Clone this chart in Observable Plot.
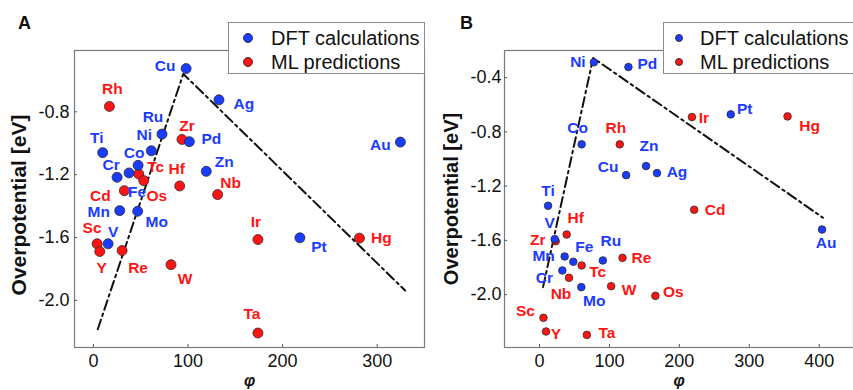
<!DOCTYPE html>
<html>
<head>
<meta charset="utf-8">
<script src="https://cdn.jsdelivr.net/npm/d3@7"></script>
<script src="https://cdn.jsdelivr.net/npm/@observablehq/plot@0.6"></script>
<style>
  html, body { margin: 0; padding: 0; background: #fff; overflow: hidden; }
  #wrap { position: relative; width: 853px; height: 390px; overflow: hidden; }
  .panel { position: absolute; top: 0; }
  .legend { position: absolute; top: 22px; height: 50px; border: 1px solid #8a8a8a; background: #fff;
            font-family: "Liberation Sans", Arial, sans-serif; font-size: 20px; color: #111; }
  .legend .txt { position: absolute; white-space: nowrap; line-height: 20px; }
  .legend .dot { position: absolute; border-radius: 50%; border: 1px solid #333; box-sizing: border-box; }
</style>
</head>
<body>
<div id="wrap"></div>
<script>
// Panel A: overpotential vs. descriptor φ
const dftElementsA = ["Cu", "Ru", "Ni", "Pd", "Ti", "Co", "Cr", "Fe", "Zn", "Ag", "Au", "Pt", "Mn", "Mo", "V"];
const dftPhiA = [98, 72.5, 61.2, 101.4, 9.8, 47.2, 25, 37.7, 119.3, 132.7, 324.5, 218.3, 27.8, 46.8, 15.5];
const dftEtaA = [-0.525, -0.942, -1.048, -0.99, -1.06, -1.141, -1.217, -1.189, -1.179, -0.724, -0.993, -1.602, -1.429, -1.433, -1.64];

const mlElementsA = ["Rh", "Zr", "Tc", "Os", "Hf", "Nb", "Cd", "Sc", "Y", "Re", "W", "Ir", "Ta", "Hg"];
const mlPhiA = [16.9, 93.6, 47.9, 53.2, 91.2, 131.3, 32.7, 3.9, 6.7, 30.3, 82, 173.9, 173.9, 281.2];
const mlEtaA = [-0.766, -0.976, -1.196, -1.238, -1.272, -1.327, -1.302, -1.64, -1.689, -1.683, -1.773, -1.613, -2.208, -1.604];

const volcanoPhiA = [4.6, 95, 329.5];
const volcanoEtaA = [-2.184, -0.559, -1.937];

const xTicksA = [0, 100, 200, 300];
const yTicksA = [-0.8, -1.2, -1.6, -2.0];

// Panel B
const dftElementsB = ["Ni", "Pd", "Co", "Cu", "Zn", "Ag", "Pt", "Au", "Ti", "V", "Mn", "Fe", "Ru", "Cr", "Mo"];
const dftPhiB = [77.8, 127.2, 60.3, 123.9, 152.4, 168, 273.5, 404, 12.3, 21.8, 36, 48.4, 90.6, 32.7, 59.8];
const dftEtaB = [-0.287, -0.322, -0.892, -1.119, -1.052, -1.104, -0.671, -1.52, -1.345, -1.591, -1.719, -1.758, -1.748, -1.822, -1.945];

const mlElementsB = ["Rh", "Ir", "Hg", "Cd", "Os", "Hf", "Zr", "Tc", "Re", "Nb", "W", "Sc", "Y", "Ta"];
const mlPhiB = [114.8, 218, 354.7, 221.2, 165.7, 38.9, 23.2, 60.3, 118.7, 42.2, 102.5, 5.7, 9.4, 67.8];
const mlEtaB = [-0.892, -0.691, -0.686, -1.374, -2.009, -1.557, -1.606, -1.785, -1.729, -1.876, -1.938, -2.171, -2.272, -2.297];

const volcanoPhiB = [5.1, 76.8, 405.4];
const volcanoEtaB = [-1.945, -0.255, -1.433];

const xTicksB = [0, 100, 200, 300, 400];
const yTicksB = [-0.4, -0.8, -1.2, -1.6, -2.0];

const legendLabels = ["DFT calculations", "ML predictions"];

// Label placement (pixel offsets of each element tag from its dot)
const tagOffsetA = {
  Cu: [-21, -3], Ru: [-9, -17], Ni: [-7, -16], Pd: [22, -3], Ti: [-6, -15], Co: [-4, -12], Cr: [-6, -12],
  Fe: [8, 19], Zn: [18, -9], Ag: [25, 4], Au: [-20, 3], Pt: [19, 9], Mn: [-21, 1], Mo: [19, 11], V: [5, -12],
  Rh: [3, -17], Zr: [5, -13], Tc: [17, -7], Os: [13, 15], Hf: [-3, -17], Nb: [13, -12], Cd: [-24, 5],
  Sc: [-5, -16], Y: [2, 17], Re: [16, 17], W: [14, 14], Ir: [-2, -18], Ta: [-6, -19], Hg: [22, 0]
};
const tagOffsetB = {
  Ni: [-16, 0], Pd: [19, -3], Co: [-4, -16], Cu: [-18, -8], Zn: [3, -20], Ag: [20, -1], Pt: [14, -5],
  Au: [4, 14], Ti: [0, -15], V: [-5, -16], Mn: [-21, 0], Fe: [11, -15], Ru: [8, -19], Cr: [-18, 8], Mo: [13, 14],
  Rh: [-4, -16], Ir: [12, 1], Hg: [22, 10], Cd: [21, 0], Os: [18, -4], Hf: [9, -17], Zr: [-18, -1],
  Tc: [16, 7], Re: [19, 0], Nb: [-8, 16], W: [18, 4], Sc: [-18, -7], Y: [10, 3], Ta: [20, -2]
};

const BLUE = "#1a3cff";
const RED = "#ff1414";
const FONT = "'Liberation Sans', Arial, sans-serif";

const rows = (els, phi, eta) => els.map((el, i) => ({el, phi: phi[i], eta: eta[i]}));

function panel(o) {
  const height = 390, marginTop = 50, marginBottom = 43;
  const innerW = o.width - o.marginLeft - o.marginRight;
  const innerH = height - marginTop - marginBottom;
  const dft = rows(o.dftEl, o.dftPhi, o.dftEta);
  const ml = rows(o.mlEl, o.mlPhi, o.mlEta);
  const volcano = o.vPhi.map((p, i) => ({phi: p, eta: o.vEta[i]}));

  const tags = (data, color) => data.map(d => Plot.text([d], {
    x: "phi", y: "eta", text: "el", fill: color, fontWeight: "bold", fontSize: 15.5,
    fontFamily: FONT, dx: o.offsets[d.el][0], dy: o.offsets[d.el][1]
  }));

  return Plot.plot({
    width: o.width, height, marginLeft: o.marginLeft, marginRight: o.marginRight, marginTop, marginBottom,
    x: {domain: o.xDomain, label: null},
    y: {domain: o.yDomain, label: null},
    style: {fontFamily: FONT, fontSize: "18px", color: "#111", background: "transparent", overflow: "visible"},
    marks: [
      Plot.frame({stroke: "#7a7a7a", strokeWidth: 1.2}),
      Plot.tickX(o.xTicks, {x: d => d, insetTop: innerH - 3, stroke: "#555"}),
      Plot.tickY(o.yTicks, {y: d => d, insetRight: innerW - 3, stroke: "#555"}),
      Plot.axisX({ticks: o.xTicks, tickSize: 0, tickPadding: 7, tickFormat: d => String(d), fontSize: 18, fill: "#111"}),
      Plot.axisY({ticks: o.yTicks, tickSize: 0, tickPadding: o.tickPadY, tickFormat: d => d.toFixed(1), fontSize: 18, fill: "#111"}),
      Plot.line(volcano, {x: "phi", y: "eta", stroke: "#111", strokeWidth: 2, strokeDasharray: "10,4,2.5,4"}),
      Plot.dot(ml, {x: "phi", y: "eta", r: o.r, fill: RED, stroke: "#2a2a2a", strokeWidth: 0.8}),
      Plot.dot(dft, {x: "phi", y: "eta", r: o.r, fill: BLUE, stroke: "#2a2a2a", strokeWidth: 0.8}),
      ...tags(ml, RED),
      ...tags(dft, BLUE),
      Plot.text(["φ"], {frameAnchor: "bottom", dy: 33, textAnchor: "middle", lineAnchor: "middle",
        fontStyle: "italic", fontWeight: "bold", fontSize: 16, fontFamily: FONT, fill: "#111"}),
      Plot.text(["Overpotential [eV]"], {frameAnchor: "left", dx: o.titleDx, dy: o.titleDy, rotate: -90,
        textAnchor: "middle", lineAnchor: "middle",
        fontWeight: "bold", fontSize: o.titleSize, fontFamily: FONT, fill: "#111"}),
      Plot.text([o.letter], {frameAnchor: "top-left", dx: o.letterDx, dy: -27, textAnchor: "middle", lineAnchor: "middle",
        fontWeight: "bold", fontSize: 18, fontFamily: FONT, fill: "#111"})
    ]
  });
}

function legend(left, width, dotX, dotD, textX) {
  const box = document.createElement("div");
  box.className = "legend";
  box.style.left = left + "px";
  box.style.width = width + "px";
  [[BLUE, 14.7], [RED, 39]].forEach(([c, cy], i) => {
    const dot = document.createElement("div");
    dot.className = "dot";
    dot.style.background = c;
    dot.style.width = dot.style.height = dotD + "px";
    dot.style.left = (dotX - dotD / 2) + "px";
    dot.style.top = (cy - dotD / 2) + "px";
    box.appendChild(dot);
    const t = document.createElement("div");
    t.className = "txt";
    t.textContent = legendLabels[i];
    t.style.left = textX + "px";
    t.style.top = (cy - 10) + "px";
    box.appendChild(t);
  });
  return box;
}

const wrap = document.getElementById("wrap");

const a = panel({
  width: 427, marginLeft: 74, marginRight: 3,
  xDomain: [-20, 350], yDomain: [-2.30, -0.41],
  xTicks: xTicksA, yTicks: yTicksA, tickPadY: 5, r: 5,
  dftEl: dftElementsA, dftPhi: dftPhiA, dftEta: dftEtaA,
  mlEl: mlElementsA, mlPhi: mlPhiA, mlEta: mlEtaA,
  vPhi: volcanoPhiA, vEta: volcanoEtaA, offsets: tagOffsetA,
  titleDx: -55, titleDy: 6, titleSize: 21, letter: "A", letterDx: -50
});
a.classList.add("panel");
a.style.left = "0px";
wrap.appendChild(a);

const b = panel({
  width: 430, marginLeft: 77, marginRight: 4,
  xDomain: [-50, 449], yDomain: [-2.39, -0.2],
  xTicks: xTicksB, yTicks: yTicksB, tickPadY: 3, r: 3.8,
  dftEl: dftElementsB, dftPhi: dftPhiB, dftEta: dftEtaB,
  mlEl: mlElementsB, mlPhi: mlPhiB, mlEta: mlEtaB,
  vPhi: volcanoPhiB, vEta: volcanoEtaB, offsets: tagOffsetB,
  titleDx: -53, titleDy: 0, titleSize: 20, letter: "B", letterDx: -38
});
b.classList.add("panel");
b.style.left = "427px";
wrap.appendChild(b);

wrap.appendChild(legend(228, 195, 18.7, 10, 42));
wrap.appendChild(legend(663, 200, 15, 8, 36));
</script>
</body>
</html>
